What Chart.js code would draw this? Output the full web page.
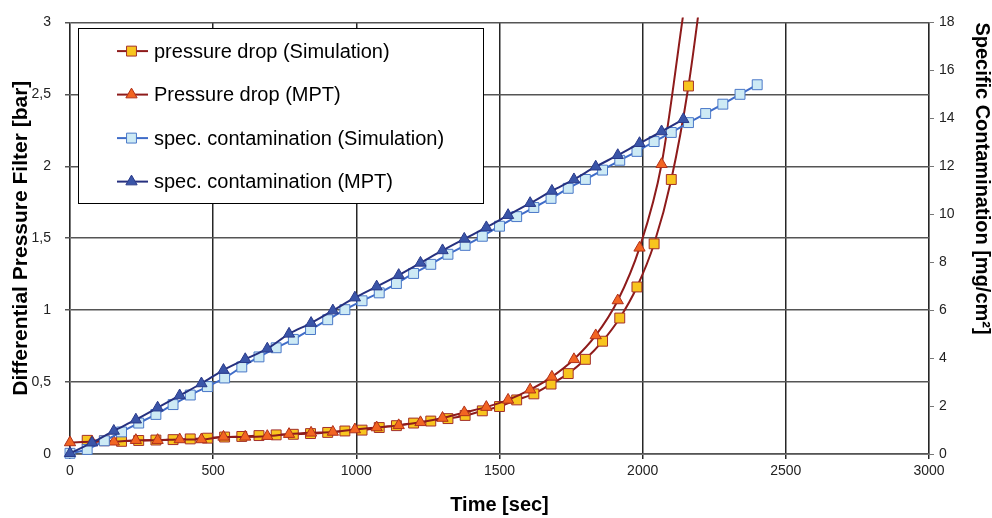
<!DOCTYPE html>
<html><head><meta charset="utf-8">
<script src="https://cdn.jsdelivr.net/npm/chart.js@4.4.1/dist/chart.umd.min.js"></script>
<style>html,body{margin:0;padding:0;background:#fff;}#wrap{position:relative;width:992px;height:518px;}</style>
</head><body><div id="wrap"><canvas id="c" width="992" height="518"></canvas></div>
<script>
// ---- data ----
const seriesLabels = ['pressure drop (Simulation)', 'Pressure drop (MPT)', 'spec. contamination (Simulation)', 'spec. contamination (MPT)'];
const simPressureTime = [60,120,180,240,300,360,420,480,540,600,660,720,780,840,900,960,1020,1080,1140,1200,1260,1320,1380,1440,1500,1560,1620,1680,1740,1800,1860,1920,1980,2040,2100,2160,2220];
const simPressure = [0.095,0.092,0.088,0.094,0.097,0.100,0.105,0.110,0.118,0.122,0.128,0.133,0.137,0.142,0.150,0.160,0.166,0.184,0.197,0.215,0.229,0.246,0.268,0.300,0.330,0.376,0.418,0.486,0.559,0.658,0.784,0.945,1.161,1.461,1.908,2.558,3.45];
const mptTime = [0,77,153,230,306,383,459,536,612,689,765,842,918,995,1071,1148,1224,1301,1377,1454,1530,1607,1683,1760,1836,1913,1989,2066,2142];
const mptPressure = [0.080,0.085,0.085,0.096,0.096,0.101,0.101,0.119,0.119,0.124,0.138,0.147,0.153,0.170,0.184,0.199,0.220,0.250,0.289,0.326,0.376,0.447,0.536,0.658,0.824,1.067,1.433,2.014,3.06];
const simContTime = [0,60,120,180,240,300,360,420,480,540,600,660,720,780,840,900,960,1020,1080,1140,1200,1260,1320,1380,1440,1500,1560,1620,1680,1740,1800,1860,1920,1980,2040,2100,2160,2220,2280,2340,2400];
const simCont = [0.03,0.19,0.55,0.92,1.29,1.65,2.06,2.46,2.81,3.17,3.63,4.05,4.43,4.78,5.19,5.60,6.02,6.39,6.72,7.11,7.53,7.91,8.33,8.70,9.08,9.50,9.90,10.28,10.66,11.08,11.45,11.84,12.25,12.62,13.03,13.41,13.82,14.20,14.59,15.00,15.40];
const mptCont = [0.03,0.47,0.96,1.43,1.93,2.44,2.94,3.50,3.95,4.39,5.01,5.46,5.98,6.52,6.98,7.46,7.97,8.49,8.97,9.45,9.96,10.46,10.97,11.45,11.98,12.46,12.96,13.45,13.96];
const timeTicks = ['0','500','1000','1500','2000','2500','3000'];
const pressureTicks = ['0','0,5','1','1,5','2','2,5','3'];
const contTicks = ['0','2','4','6','8','10','12','14','16','18'];

const pts = (xs, ys) => xs.map((x, i) => ({x: x, y: ys[i]}));
const hideAbove3 = (ctx) => (ctx.raw && ctx.raw.y > 3 ? 0 : 7);
const hideAbove3Tri = (ctx) => (ctx.raw && ctx.raw.y > 3 ? 0 : 6.5);

Chart.defaults.font.family = '"Liberation Sans", Arial, sans-serif';

const boxLegend = {
  id: 'boxLegend',
  afterDraw(chart) {
    const ctx = chart.ctx, a = chart.chartArea;
    const x0 = a.left + 8, y0 = a.top + 6, w = 405, h = 175;
    ctx.save();
    ctx.fillStyle = '#fff';
    ctx.fillRect(x0, y0, w, h);
    ctx.strokeStyle = '#000'; ctx.lineWidth = 1;
    ctx.strokeRect(Math.round(x0) + 0.5, Math.round(y0) + 0.5, w, h);
    chart.data.datasets.forEach((ds, i) => {
      const cy = y0 + 22.7 + i * 43.5;
      ctx.strokeStyle = ds.borderColor; ctx.lineWidth = ds.borderWidth;
      ctx.beginPath(); ctx.moveTo(x0 + 39, cy); ctx.lineTo(x0 + 70, cy); ctx.stroke();
      ctx.fillStyle = ds.pointBackgroundColor; ctx.strokeStyle = ds.pointBorderColor; ctx.lineWidth = ds.pointBorderWidth;
      Chart.helpers.drawPoint(ctx, {pointStyle: ds.pointStyle, radius: ds.pointStyle === 'triangle' ? 6.5 : 7, rotation: 0, borderWidth: ds.pointBorderWidth}, x0 + 53.5, cy);
      ctx.fillStyle = '#000';
      ctx.font = '20px "Liberation Sans", Arial, sans-serif';
      ctx.textBaseline = 'middle'; ctx.textAlign = 'left';
      ctx.fillText(ds.label, x0 + 76, cy + 1);
    });
    ctx.restore();
  }
};

new Chart(document.getElementById('c'), {
  type: 'line',
  data: {
    datasets: [
      {label: seriesLabels[0], data: pts(simPressureTime, simPressure), yAxisID: 'y', order: 4,
       borderColor: '#8E1B1B', borderWidth: 2, pointStyle: 'rect', pointRadius: hideAbove3,
       pointBackgroundColor: '#F8C51E', pointBorderColor: '#A3302B', pointBorderWidth: 1,
       cubicInterpolationMode: 'monotone', clip: {left: 10, top: 5, right: 10, bottom: 10}},
      {label: seriesLabels[1], data: pts(mptTime, mptPressure), yAxisID: 'y', order: 3,
       borderColor: '#8E1B1B', borderWidth: 2, pointStyle: 'triangle', pointRadius: hideAbove3Tri,
       pointBackgroundColor: '#F26522', pointBorderColor: '#B0301A', pointBorderWidth: 1,
       cubicInterpolationMode: 'monotone', clip: {left: 10, top: 5, right: 10, bottom: 10}},
      {label: seriesLabels[2], data: pts(simContTime, simCont), yAxisID: 'y2', order: 2,
       borderColor: '#3F6CC8', borderWidth: 2, pointStyle: 'rect', pointRadius: 7,
       pointBackgroundColor: '#CDEAF5', pointBorderColor: '#4A78C8', pointBorderWidth: 1,
       cubicInterpolationMode: 'monotone', clip: false},
      {label: seriesLabels[3], data: pts(mptTime, mptCont), yAxisID: 'y2', order: 1,
       borderColor: '#26307F', borderWidth: 2, pointStyle: 'triangle', pointRadius: 6.5,
       pointBackgroundColor: '#3A55A8', pointBorderColor: '#2A3A8A', pointBorderWidth: 1,
       cubicInterpolationMode: 'monotone', clip: false}
    ]
  },
  options: {
    responsive: false, animation: false, devicePixelRatio: 1,
    layout: {padding: {top: 18, left: 0, right: 0, bottom: 0}},
    plugins: {legend: {display: false}, tooltip: {enabled: false}},
    scales: {
      x: {type: 'linear', min: 0, max: 3000,
        afterFit: (s) => { s.height = 64; },
        ticks: {stepSize: 500, color: '#222', font: {size: 14}, padding: 4, maxRotation: 0,
          callback: (v, i) => timeTicks[i]},
        grid: {color: '#262626', lineWidth: 1.5, tickLength: 5},
        border: {color: '#777'},
        title: {display: true, text: 'Time [sec]', color: '#000', font: {size: 20, weight: 'bold', lineHeight: 1.2}, padding: {top: 0, bottom: 1}}
      },
      y: {type: 'linear', position: 'left', min: 0, max: 3,
        afterFit: (s) => { s.width = 70; },
        ticks: {stepSize: 0.5, color: '#222', font: {size: 14}, padding: 14,
          callback: (v, i) => pressureTicks[i]},
        grid: {color: '#555', lineWidth: 1.5, tickLength: 5},
        border: {color: '#777'},
        title: {display: true, text: 'Differential Pressure Filter [bar]', color: '#000', font: {size: 21, weight: 'bold', lineHeight: 1.2}, padding: {top: 9, bottom: 0}}
      },
      y2: {type: 'linear', position: 'right', min: 0, max: 18,
        afterFit: (s) => { s.width = 63; },
        ticks: {stepSize: 2, color: '#222', font: {size: 14}, padding: 5,
          callback: (v, i) => contTicks[i]},
        grid: {drawOnChartArea: false, color: '#777', tickLength: 5},
        border: {color: '#777'},
        title: {display: true, text: 'Specific Contamination [mg/cm²]', align: 'end', color: '#000', font: {size: 20, weight: 'bold', lineHeight: 1}, padding: {top: 0, bottom: 0}}
      }
    }
  },
  plugins: [boxLegend]
});
</script></body></html>
